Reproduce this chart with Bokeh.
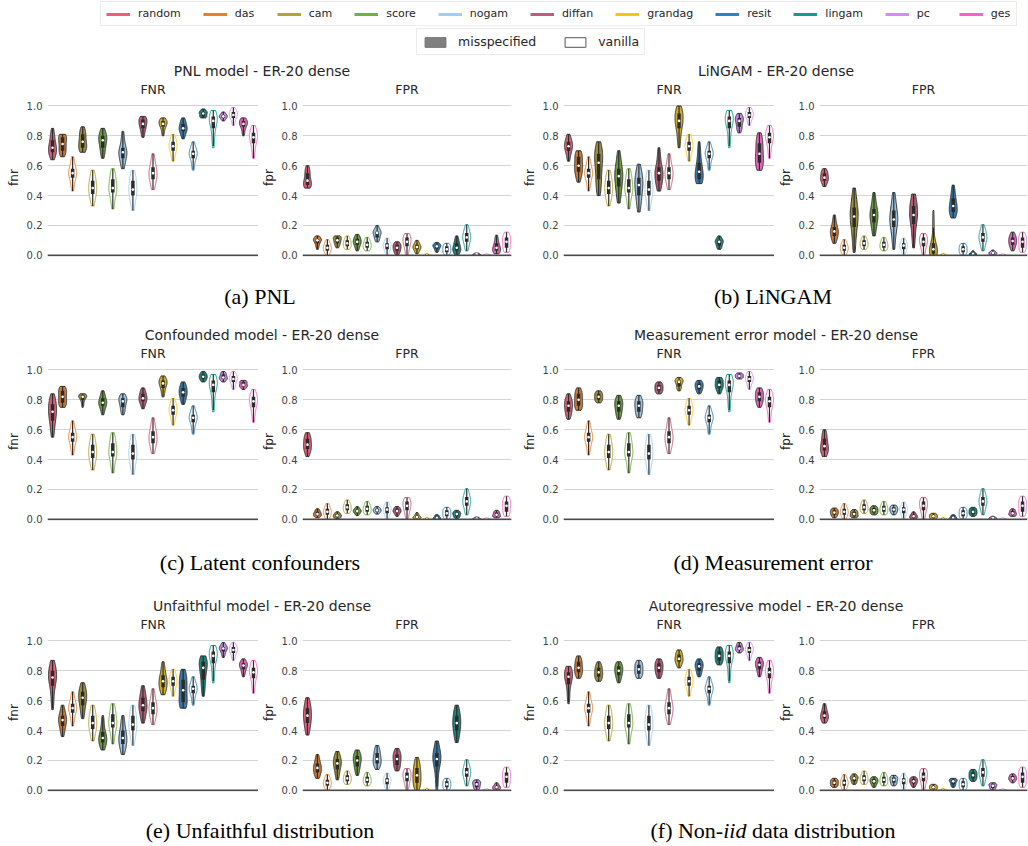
import colorsys
import numpy as np
from bokeh.plotting import figure
from bokeh.models import (Range1d, FixedTicker, PrintfTickFormatter, ColumnDataSource,
                          Legend, LegendItem, Div, Span)
from bokeh.layouts import column, row
from bokeh.embed import file_html
from bokeh.resources import INLINE

# ---------------- data ----------------
methods = ["das", "cam", "score", "nogam", "diffan", "grandag", "resit", "lingam", "pc", "ges"]
legend_names = ["random"] + methods
base_colors = ["#F25C78", "#E8802A", "#B5A431", "#71B336", "#A2CDF2", "#C9587A",
               "#F7C70E", "#2A82C4", "#109C8E", "#D68AF7", "#F763C8"]

# each violin: (min, q1, median, q3, max)
vanilla_fnr = [(0.43, 0.52, 0.55, 0.58, 0.66), (0.33, 0.41, 0.45, 0.50, 0.57),
               (0.31, 0.42, 0.45, 0.51, 0.58), (0.30, 0.40, 0.44, 0.50, 0.57),
               (0.44, 0.51, 0.55, 0.59, 0.68), (0.63, 0.70, 0.73, 0.76, 0.81),
               (0.57, 0.65, 0.68, 0.70, 0.76), (0.72, 0.85, 0.90, 0.93, 0.97),
               (0.87, 0.92, 0.94, 0.96, 0.99), (0.65, 0.75, 0.79, 0.82, 0.87)]
vanilla_fpr = [(0.0, 0.03, 0.05, 0.07, 0.105), (0.04, 0.06, 0.08, 0.10, 0.13),
               (0.03, 0.05, 0.07, 0.09, 0.12), (0.005, 0.04, 0.065, 0.08, 0.115),
               (0.0, 0.06, 0.09, 0.12, 0.145), (0.0, 0.0, 0.004, 0.008, 0.014),
               (0.0, 0.02, 0.04, 0.06, 0.08), (0.03, 0.09, 0.12, 0.15, 0.205),
               (0.0, 0.0, 0.003, 0.005, 0.01), (0.02, 0.05, 0.09, 0.12, 0.155)]

# misspecified runs: random first, then methods in order
pnl_fnr = [(0.64, 0.69, 0.72, 0.77, 0.85), (0.66, 0.70, 0.745, 0.79, 0.81),
           (0.69, 0.72, 0.76, 0.81, 0.86), (0.65, 0.72, 0.77, 0.80, 0.85),
           (0.58, 0.65, 0.69, 0.72, 0.83), (0.79, 0.85, 0.88, 0.91, 0.93),
           (0.80, 0.86, 0.88, 0.90, 0.92), (0.78, 0.83, 0.85, 0.88, 0.92),
           (0.92, 0.93, 0.95, 0.96, 0.98), (0.90, 0.92, 0.93, 0.94, 0.96),
           (0.80, 0.86, 0.88, 0.90, 0.92)]
pnl_fpr = [(0.45, 0.47, 0.50, 0.55, 0.60), (0.04, 0.08, 0.10, 0.11, 0.13),
           (0.05, 0.08, 0.10, 0.12, 0.13), (0.03, 0.07, 0.09, 0.11, 0.14),
           (0.09, 0.12, 0.15, 0.16, 0.20), (0.0, 0.03, 0.05, 0.07, 0.09),
           (0.01, 0.04, 0.055, 0.07, 0.10), (0.02, 0.045, 0.06, 0.07, 0.085),
           (0.0, 0.03, 0.05, 0.08, 0.13), (0.0, 0.003, 0.006, 0.01, 0.015),
           (0.01, 0.03, 0.05, 0.08, 0.135)]
lingam_fnr = [(0.63, 0.70, 0.73, 0.76, 0.81), (0.49, 0.56, 0.60, 0.66, 0.70),
              (0.40, 0.51, 0.62, 0.68, 0.76), (0.35, 0.46, 0.53, 0.58, 0.70),
              (0.29, 0.40, 0.47, 0.52, 0.61), (0.43, 0.50, 0.55, 0.59, 0.72),
              (0.72, 0.85, 0.90, 0.95, 1.0), (0.48, 0.51, 0.56, 0.62, 0.76),
              (0.04, 0.065, 0.09, 0.10, 0.13), (0.82, 0.86, 0.90, 0.92, 0.95),
              (0.57, 0.62, 0.68, 0.75, 0.82)]
lingam_fpr = [(0.46, 0.50, 0.52, 0.55, 0.58), (0.08, 0.13, 0.16, 0.19, 0.27),
              (0.02, 0.19, 0.26, 0.32, 0.45), (0.13, 0.22, 0.27, 0.31, 0.42),
              (0.04, 0.19, 0.24, 0.30, 0.42), (0.05, 0.21, 0.27, 0.33, 0.41),
              (0.0, 0.01, 0.04, 0.08, 0.30), (0.25, 0.29, 0.33, 0.38, 0.47),
              (0.0, 0.005, 0.01, 0.015, 0.03), (0.0, 0.005, 0.015, 0.02, 0.035),
              (0.03, 0.07, 0.095, 0.12, 0.155)]
conf_fnr = [(0.55, 0.66, 0.72, 0.77, 0.84), (0.75, 0.78, 0.82, 0.86, 0.89),
            (0.75, 0.80, 0.82, 0.83, 0.84), (0.70, 0.76, 0.78, 0.81, 0.86),
            (0.70, 0.75, 0.79, 0.81, 0.84), (0.74, 0.79, 0.81, 0.84, 0.88),
            (0.82, 0.88, 0.91, 0.93, 0.96), (0.77, 0.82, 0.85, 0.88, 0.92),
            (0.92, 0.94, 0.955, 0.97, 0.99), (0.92, 0.94, 0.95, 0.97, 0.99),
            (0.87, 0.89, 0.90, 0.92, 0.93)]
conf_fpr = [(0.42, 0.47, 0.50, 0.54, 0.58), (0.01, 0.025, 0.035, 0.05, 0.07),
            (0.005, 0.015, 0.025, 0.035, 0.05), (0.025, 0.045, 0.055, 0.065, 0.085),
            (0.035, 0.05, 0.06, 0.07, 0.085), (0.02, 0.045, 0.055, 0.07, 0.085),
            (0.0, 0.008, 0.015, 0.025, 0.045), (0.0, 0.005, 0.01, 0.02, 0.03),
            (0.005, 0.02, 0.035, 0.045, 0.06), (0.0, 0.002, 0.005, 0.01, 0.015),
            (0.01, 0.02, 0.03, 0.045, 0.06)]
meas_fnr = [(0.67, 0.72, 0.76, 0.79, 0.84), (0.73, 0.76, 0.80, 0.84, 0.88),
            (0.78, 0.80, 0.82, 0.84, 0.86), (0.67, 0.72, 0.76, 0.79, 0.83),
            (0.68, 0.72, 0.76, 0.79, 0.83), (0.84, 0.86, 0.88, 0.90, 0.92),
            (0.86, 0.89, 0.92, 0.93, 0.95), (0.84, 0.87, 0.89, 0.91, 0.93),
            (0.84, 0.88, 0.90, 0.93, 0.95), (0.94, 0.95, 0.96, 0.97, 0.98),
            (0.75, 0.79, 0.82, 0.85, 0.88)]
meas_fpr = [(0.42, 0.46, 0.49, 0.54, 0.60), (0.01, 0.03, 0.045, 0.06, 0.075),
            (0.01, 0.02, 0.035, 0.05, 0.065), (0.03, 0.045, 0.06, 0.075, 0.09),
            (0.03, 0.05, 0.065, 0.08, 0.095), (0.0, 0.01, 0.02, 0.03, 0.05),
            (0.0, 0.01, 0.02, 0.03, 0.04), (0.0, 0.005, 0.01, 0.02, 0.03),
            (0.02, 0.035, 0.05, 0.065, 0.08), (0.0, 0.003, 0.008, 0.012, 0.02),
            (0.02, 0.03, 0.04, 0.055, 0.07)]
unf_fnr = [(0.54, 0.70, 0.755, 0.80, 0.87), (0.36, 0.43, 0.47, 0.50, 0.57),
           (0.48, 0.57, 0.62, 0.66, 0.72), (0.27, 0.32, 0.35, 0.39, 0.50),
           (0.24, 0.31, 0.35, 0.40, 0.50), (0.45, 0.53, 0.57, 0.62, 0.70),
           (0.64, 0.69, 0.73, 0.77, 0.86), (0.55, 0.59, 0.67, 0.74, 0.81),
           (0.63, 0.74, 0.82, 0.86, 0.90), (0.89, 0.93, 0.95, 0.96, 0.99),
           (0.76, 0.81, 0.835, 0.85, 0.88)]
unf_fpr = [(0.37, 0.45, 0.50, 0.55, 0.62), (0.08, 0.12, 0.15, 0.18, 0.24),
           (0.07, 0.14, 0.18, 0.21, 0.26), (0.10, 0.16, 0.20, 0.23, 0.27),
           (0.14, 0.18, 0.21, 0.25, 0.30), (0.13, 0.17, 0.21, 0.24, 0.28),
           (0.0, 0.05, 0.10, 0.15, 0.22), (0.0, 0.16, 0.21, 0.25, 0.33),
           (0.32, 0.40, 0.45, 0.50, 0.57), (0.0, 0.02, 0.04, 0.055, 0.07),
           (0.0, 0.01, 0.02, 0.03, 0.05)]
auto_fnr = [(0.58, 0.71, 0.76, 0.79, 0.83), (0.75, 0.79, 0.82, 0.86, 0.90),
            (0.73, 0.76, 0.79, 0.82, 0.86), (0.72, 0.77, 0.80, 0.83, 0.86),
            (0.75, 0.78, 0.81, 0.84, 0.87), (0.75, 0.79, 0.82, 0.85, 0.88),
            (0.82, 0.86, 0.88, 0.91, 0.94), (0.76, 0.80, 0.83, 0.85, 0.88),
            (0.84, 0.87, 0.90, 0.93, 0.96), (0.92, 0.94, 0.95, 0.97, 0.99),
            (0.76, 0.81, 0.84, 0.86, 0.89)]
auto_fpr = [(0.45, 0.48, 0.50, 0.53, 0.58), (0.02, 0.035, 0.05, 0.065, 0.08),
            (0.04, 0.06, 0.08, 0.09, 0.11), (0.02, 0.045, 0.06, 0.075, 0.09),
            (0.03, 0.05, 0.07, 0.085, 0.10), (0.02, 0.045, 0.06, 0.075, 0.09),
            (0.0, 0.01, 0.02, 0.03, 0.04), (0.02, 0.04, 0.06, 0.07, 0.08),
            (0.06, 0.08, 0.10, 0.12, 0.14), (0.0, 0.015, 0.03, 0.04, 0.05),
            (0.05, 0.07, 0.08, 0.095, 0.11)]

panel_titles = ["PNL model - ER-20 dense", "LiNGAM - ER-20 dense",
                "Confounded model - ER-20 dense", "Measurement error model - ER-20 dense",
                "Unfaithful model - ER-20 dense", "Autoregressive model - ER-20 dense"]
captions = ["(a) PNL", "(b) LiNGAM", "(c) Latent confounders", "(d) Measurement error",
            "(e) Unfaithful distribution", "(f) Non-<i>iid</i> data distribution"]
panel_fnr = [pnl_fnr, lingam_fnr, conf_fnr, meas_fnr, unf_fnr, auto_fnr]
panel_fpr = [pnl_fpr, lingam_fpr, conf_fpr, meas_fpr, unf_fpr, auto_fpr]
y_ticks = [0.0, 0.2, 0.4, 0.6, 0.8, 1.0]

# ---------------- helpers ----------------
FONT = "DejaVu Sans"
TXT = "#262626"
FH = 158


def desat(hexc, sf=0.75, lf=0.95):
    r, g, b = [int(hexc[i:i + 2], 16) / 255 for i in (1, 3, 5)]
    h, l, s = colorsys.rgb_to_hls(r, g, b)
    r, g, b = colorsys.hls_to_rgb(h, l * lf, s * sf)
    return "#%02x%02x%02x" % tuple(int(round(c * 255)) for c in (r, g, b))


def violin_shape(st, center, half=0.4, n=60):
    mn, q1, md, q3, mx = st
    probs = np.linspace(0, 1, 101)
    sample = np.interp(probs, [0, .25, .5, .75, 1], [mn, q1, md, q3, mx])
    bw = max(sample.std() * 20 ** (-0.2), 1e-4)
    grid = np.linspace(mn, mx, n)
    dens = np.exp(-0.5 * ((grid[:, None] - sample[None, :]) / bw) ** 2).sum(1)
    w = dens / dens.max() * half
    xs = np.concatenate([center + w, (center - w)[::-1]])
    ys = np.concatenate([grid, grid[::-1]])
    return list(xs), list(ys)


def metric_fig(stats, vanilla, title, ylab, left, fw, right):
    p = figure(frame_width=fw, frame_height=FH, x_range=Range1d(-0.5, 20.5),
               y_range=Range1d(-0.008, 1.05), x_axis_type=None,
               output_backend="svg", toolbar_location=None, title=title,
               min_border_left=left, min_border_right=right, min_border_top=20,
               min_border_bottom=7)
    p.outline_line_color = None
    p.background_fill_color = "white"
    p.border_fill_color = "white"
    p.title.align = "center"
    p.title.text_font = FONT
    p.title.text_font_size = "12.5px"
    p.title.text_font_style = "normal"
    p.title.text_color = TXT
    p.title.standoff = 4
    ax = p.yaxis[0]
    ax.ticker = FixedTicker(ticks=y_ticks)
    ax.formatter = PrintfTickFormatter(format="%.1f")
    ax.axis_line_color = None
    ax.major_tick_line_color = None
    ax.minor_tick_line_color = None
    ax.major_tick_out = 0
    ax.major_tick_in = 0
    ax.minor_tick_out = 0
    ax.minor_tick_in = 0
    ax.major_label_text_font = FONT
    ax.major_label_text_font_size = "10px"
    ax.major_label_text_color = "#3f3f3f"
    ax.major_label_standoff = 5
    ax.axis_label = ylab
    ax.axis_label_text_font = FONT
    ax.axis_label_text_font_size = "12px"
    ax.axis_label_text_font_style = "normal"
    ax.axis_label_text_color = TXT
    ax.axis_label_standoff = 3
    p.ygrid.grid_line_color = "#d4d4d4"
    p.ygrid.grid_line_width = 1

    all_stats = [stats[0]]
    fills = [desat(base_colors[0])]
    lines = ["#333333"]
    for k in range(len(methods)):
        c = base_colors[k + 1]
        all_stats += [stats[k + 1], vanilla[k]]
        fills += [desat(c), "white"]
        lines += ["#333333", c]
    xs, ys = [], []
    for i, st in enumerate(all_stats):
        vx, vy = violin_shape(st, i)
        xs.append(vx)
        ys.append(vy)
    p.patches(xs="xs", ys="ys", fill_color="fill", line_color="line", line_width=1,
              source=ColumnDataSource(dict(xs=xs, ys=ys, fill=fills, line=lines)))
    idx = list(range(len(all_stats)))
    q1 = [s[1] for s in all_stats]
    q3 = [s[3] for s in all_stats]
    med = [s[2] for s in all_stats]
    lo = [max(s[0], s[1] - 1.5 * (s[3] - s[1])) for s in all_stats]
    hi = [min(s[4], s[3] + 1.5 * (s[3] - s[1])) for s in all_stats]
    src = ColumnDataSource(dict(x=idx, q1=q1, q3=q3, med=med, lo=lo, hi=hi))
    p.segment(x0="x", y0="lo", x1="x", y1="hi", line_color="#2b2b2b", line_width=1.2, source=src)
    p.segment(x0="x", y0="q1", x1="x", y1="q3", line_color="#2b2b2b", line_width=3.5, source=src)
    p.scatter(x="x", y="med", size=2.6, fill_color="white", line_color=None, source=src)
    p.add_layout(Span(location=0, dimension="width", line_color="#4a4a4a", line_width=1.8))
    return p


PANEL_W = 514
# (left border, frame width, right border) for FNR and FPR figures of each side
side_geom = [((47, 211, 0), (44, 209, 3)), ((49, 211, 0), (45, 208, 1))]
title_pads = [10, 10]
cap_pads_x = [6, 4]
title_heights = [21, 21, 21]
title_pads_top = [7, 7, 7]
cap_heights = [57, 64, 51]
cap_pads = [23, 25, 22]

rows = []
for r in range(3):
    cols = []
    for side in range(2):
        i = 2 * r + side
        g1, g2 = side_geom[side]
        f1 = metric_fig(panel_fnr[i], vanilla_fnr, "FNR", "fnr", *g1)
        f2 = metric_fig(panel_fpr[i], vanilla_fpr, "FPR", "fpr", *g2)
        tdiv = Div(text=('<div style="box-sizing:border-box;width:%dpx;font-family:\'DejaVu Sans\';'
                         'font-size:14px;line-height:16px;color:#262626;text-align:center;'
                         'padding-top:%dpx;padding-left:%dpx;white-space:nowrap;">%s</div>'
                         % (PANEL_W, title_pads_top[r], title_pads[side], panel_titles[i])),
                   width=PANEL_W, height=title_heights[r], margin=0)
        cdiv = Div(text=('<div style="box-sizing:border-box;width:%dpx;font-family:\'Liberation Serif\';'
                         'font-size:22px;line-height:22px;color:#000000;text-align:center;'
                         'padding-top:%dpx;padding-left:%dpx;white-space:nowrap;">%s</div>'
                         % (PANEL_W, cap_pads[r], cap_pads_x[side], captions[i])),
                   width=PANEL_W, height=cap_heights[r], margin=0)
        cols.append(column(tdiv, row(f1, f2, spacing=0), cdiv, spacing=0))
    rows.append(row(*cols, spacing=0))

# ---------------- legends ----------------
lg = figure(width=1028, height=56, x_range=Range1d(0, 1), y_range=Range1d(0, 1),
            x_axis_type=None, y_axis_type=None, output_backend="svg",
            toolbar_location=None, min_border=0)
lg.grid.visible = False
lg.outline_line_color = None
items = []
for name, c in zip(legend_names, base_colors):
    rr = lg.line(x=[5, 6], y=[5, 6], line_color=c, line_width=3)
    items.append(LegendItem(label=name, renderers=[rr]))
leg1 = Legend(items=items, orientation="horizontal", location=(100, 30),
              label_text_font=FONT, label_text_font_size="11px", label_text_color=TXT,
              glyph_width=24, glyph_height=12, label_standoff=8, spacing=22,
              padding=5, margin=0, border_line_color="#d9d9d9", border_line_width=1,
              background_fill_color="white", background_fill_alpha=1)
lg.add_layout(leg1)

r_mis = lg.rect(x=[5], y=[5], width=1, height=1, fill_color="#808080", line_color="#6e6e6e")
r_van = lg.rect(x=[5], y=[5], width=1, height=1, fill_color="white", line_color="#555555")
leg2 = Legend(items=[LegendItem(label="misspecified", renderers=[r_mis]),
                     LegendItem(label="vanilla", renderers=[r_van])],
              orientation="horizontal", location=(416, 1),
              label_text_font=FONT, label_text_font_size="12.5px", label_text_color=TXT,
              glyph_width=26, glyph_height=12, label_standoff=10, spacing=26,
              padding=5, margin=0, border_line_color="#d9d9d9", border_line_width=1,
              background_fill_color="white", background_fill_alpha=1)
lg.add_layout(leg2)

layout = column(lg, *rows, spacing=0)

open("out.html", "w").write(file_html(layout, INLINE))
